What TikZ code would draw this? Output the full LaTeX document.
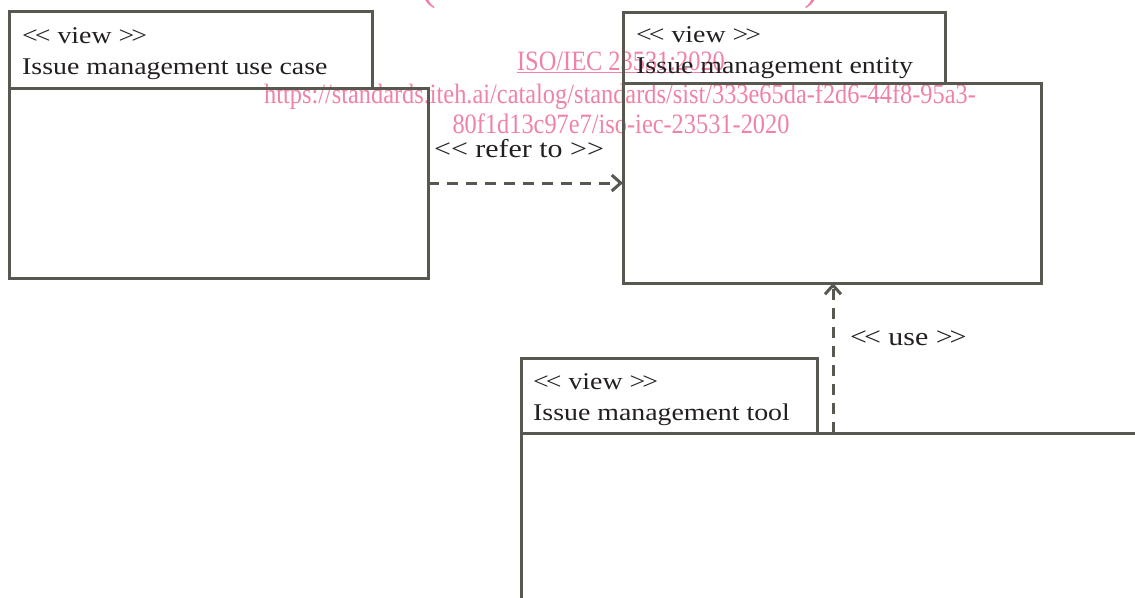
\documentclass[tikz,border=0pt]{standalone}
\usepackage{fontspec}
\setmainfont{Liberation Serif}
\newfontfamily\boxfont[FakeStretch=1.16]{Liberation Serif}
\newfontfamily\markfont[FakeStretch=0.87]{Liberation Serif}
\usetikzlibrary{arrows.meta}

\definecolor{frame}{RGB}{88,88,80}
\definecolor{ink}{RGB}{35,31,32}
\definecolor{wmark}{RGB}{240,130,165}

% stereotype brackets, set a little tighter
\newcommand\stopen{<\kern-3pt<}
\newcommand\stclose{>\kern-3pt>}

\tikzset{
  frameline/.style={draw=frame, line width=3pt},
  viewbox/.style={frameline, rectangle, anchor=north west, inner sep=0pt, outer sep=0pt},
  boxtext/.style={anchor=base west, inner sep=0pt, text=ink, font=\boxfont\fontsize{24}{28}\selectfont},
  deptext/.style={anchor=base west, inner sep=0pt, text=ink, font=\boxfont\fontsize{25.8}{30}\selectfont},
  marktext/.style={anchor=base, inner sep=0pt, text=wmark, font=\markfont\fontsize{28}{32}\selectfont},
  dep/.style={frame, line width=3pt, dash pattern=on 11pt off 8pt, -{Straight Barb[length=9pt, width=16pt]}},
}

\begin{document}
\begin{tikzpicture}[x=1pt, y=-1pt]
\useasboundingbox (0,0) rectangle (1135,597);

% watermark lines, beneath the diagram
\node[marktext, font=\fontsize{44}{44}\selectfont, anchor=base west] (lpar) at (421,-1) {(};
\node[marktext, font=\fontsize{44}{44}\selectfont, anchor=base east] (rpar) at (819,-1) {)};
\node[marktext] (wm1) at (621,70) {\underline{ISO/IEC 23531:2020}};
\node[marktext] (wm2) at (620,103) {https://standards.iteh.ai/catalog/standards/sist/333e65da-f2d6-44f8-95a3-};
\node[marktext] (wm3) at (621,133) {80f1d13c97e7/iso-iec-23531-2020};

% use case view
\node[viewbox, minimum width=363pt, minimum height=77pt] (uctab) at (9,11) {};
\node[viewbox, minimum width=419pt, minimum height=190pt] (uc) at (9,88) {};
\node[boxtext] (uc1) at (22,43) {\stopen{} view \stclose};
\node[boxtext] (uc2) at (22,74) {Issue management use case};

% entity view
\node[viewbox, minimum width=322pt, minimum height=71pt] (enttab) at (623,12) {};
\node[viewbox, minimum width=418pt, minimum height=200pt] (ent) at (623,83) {};
\node[boxtext] (ent1) at (636,42) {\stopen{} view \stclose};
\node[boxtext] (ent2) at (636,73) {Issue management entity};

% tool view (runs past the page edge)
\node[viewbox, minimum width=296pt, minimum height=75pt] (tooltab) at (521,358) {};
\node[viewbox, minimum width=700pt, minimum height=300pt] (tool) at (521,433) {};
\node[boxtext] (tool1) at (533,389) {\stopen{} view \stclose};
\node[boxtext] (tool2) at (533,420) {Issue management tool};

% dependencies
\draw[dep] (uc.east) -- (ent.west);
\node[deptext] (refer) at (434,157) {<< refer to >>};

\coordinate (usefoot) at (833,433);
\draw[dep] (usefoot) -- (usefoot |- ent.south);
\node[deptext] (uselbl) at (850,345) {\stopen{} use \stclose};
\end{tikzpicture}
\end{document}
